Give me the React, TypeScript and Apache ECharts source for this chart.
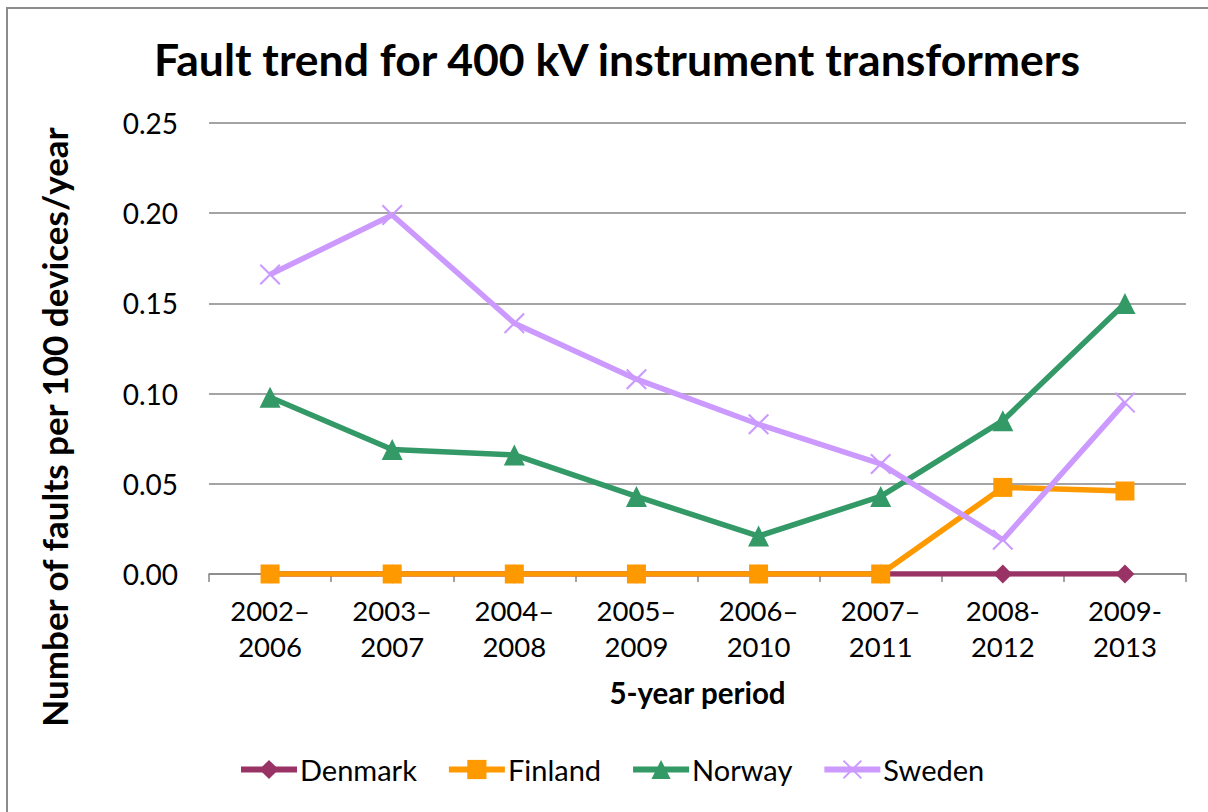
import React, { useEffect, useRef } from "react";
import * as echarts from "echarts";

const categories = ["2002–\n2006", "2003–\n2007", "2004–\n2008", "2005–\n2009", "2006–\n2010", "2007–\n2011", "2008-\n2012", "2009-\n2013"];
const denmark = [0, 0, 0, 0, 0, 0, 0, 0];
const finland = [0, 0, 0, 0, 0, 0, 0.048, 0.046];
const norway = [0.098, 0.069, 0.066, 0.043, 0.021, 0.043, 0.085, 0.15];
const sweden = [0.166, 0.199, 0.139, 0.108, 0.083, 0.061, 0.019, 0.095];

const FONT = "Lato, 'Noto Sans', sans-serif";
const CROSS = "path://M0,7L7,0L100,93L93,100Z M93,0L100,7L7,100L0,93Z";

export default function App() {
  const ref = useRef<HTMLDivElement>(null);
  useEffect(() => {
    if (!ref.current) return;
    const chart = echarts.init(ref.current, undefined, { renderer: "svg" });
    const mk = (name: string, data: number[], color: string, symbol: string, size: number) => ({
      name,
      type: "line",
      data,
      symbol,
      symbolSize: size,
      lineStyle: { color, width: 5.5 },
      itemStyle: { color },
      z: 2,
    });
    chart.setOption({
      animation: false,
      backgroundColor: "#ffffff",
      textStyle: { fontFamily: FONT },
      title: {
        text: "Fault trend for 400 kV instrument transformers",
        left: 612,
        top: 31,
        textAlign: "center",
        textStyle: { fontFamily: FONT, fontSize: 44.5, fontWeight: "bold", color: "#000" },
      },
      grid: { left: 209, right: 22, top: 123, bottom: 238, containLabel: false },
      legend: {
        bottom: 23,
        left: 233,
        itemWidth: 56,
        itemHeight: 24,
        itemGap: 29,
        lineStyle: { width: 6 },
        textStyle: { fontFamily: FONT, fontSize: 29, color: "#000", padding: [0, 0, 0, -2] },
        data: ["Denmark", "Finland", "Norway", "Sweden"],
      },
      xAxis: {
        type: "category",
        data: categories,
        boundaryGap: true,
        name: "5-year period",
        nameLocation: "middle",
        nameGap: 103,
        nameTextStyle: { fontFamily: FONT, fontSize: 29.5, fontWeight: "bold", color: "#000" },
        axisLine: { lineStyle: { color: "#868686", width: 1.5 } },
        axisTick: { show: true, length: 8, alignWithLabel: false, lineStyle: { color: "#868686", width: 1.5 } },
        axisLabel: { fontFamily: FONT, fontSize: 27.5, color: "#000", margin: 18, lineHeight: 36, interval: 0 },
      },
      yAxis: {
        type: "value",
        min: 0,
        max: 0.25,
        interval: 0.05,
        axisLine: { show: false },
        axisTick: { show: false },
        splitLine: { lineStyle: { color: "#868686", width: 1.5 } },
        axisLabel: { fontFamily: FONT, fontSize: 28, color: "#000", margin: 31, formatter: (v: number) => v.toFixed(2) },
      },
      graphic: [
        {
          type: "rect",
          shape: { x: 7, y: 8, width: 1300, height: 900 },
          style: { fill: "none", stroke: "#8c8c8c", lineWidth: 2 },
          silent: true,
        },
        {
          type: "text",
          x: 54,
          y: 427,
          rotation: Math.PI / 2,
          style: {
            text: "Number of faults per 100 devices/year",
            fontFamily: FONT,
            fontSize: 35,
            fontWeight: "bold",
            fill: "#000",
            align: "center",
            verticalAlign: "middle",
          },
        },
      ],
      series: [
        mk("Denmark", denmark, "#993366", "diamond", 19),
        mk("Finland", finland, "#FF9900", "rect", 19),
        mk("Norway", norway, "#339966", "triangle", 21),
        mk("Sweden", sweden, "#CC99FF", CROSS, 21),
      ],
    });
    return () => chart.dispose();
  }, []);
  return <div ref={ref} style={{ position: "fixed", left: 0, top: 0, width: 1208, height: 812 }} />;
}
